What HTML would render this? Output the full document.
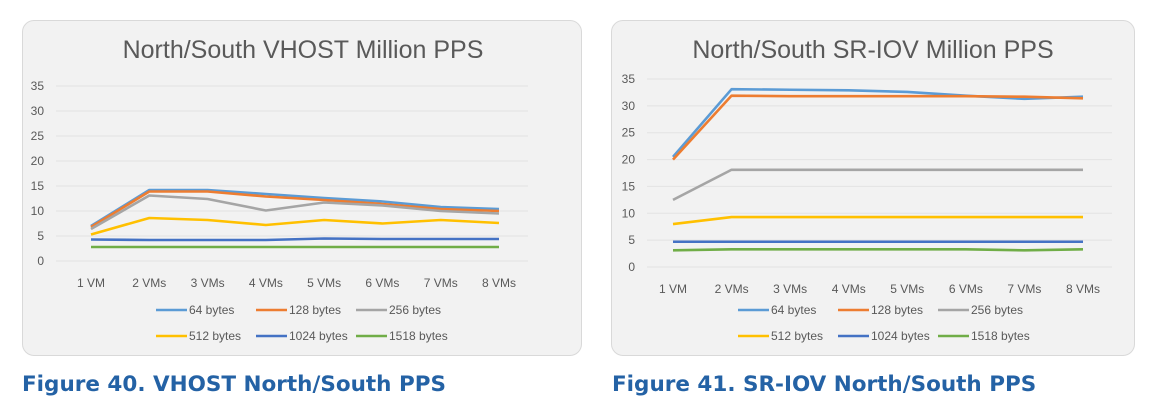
<!DOCTYPE html>
<html><head><meta charset="utf-8"><style>
body{margin:0;width:1153px;height:404px;background:#fff;font-family:"Liberation Sans",sans-serif;overflow:hidden;position:relative}
.card{position:absolute;top:20px;height:336px;background:#f2f2f2;border:1px solid #d9d9d9;border-radius:12px;box-sizing:border-box}
.cap{position:absolute;top:372px;font-family:"DejaVu Sans","Liberation Sans",sans-serif;font-weight:bold;font-size:21.5px;color:#2462a5}
svg{position:absolute;left:0;top:0}
</style></head><body>
<div class="card" style="left:22px;width:560px"></div>
<div class="card" style="left:611px;width:524px"></div>
<div class="cap" style="left:22px">Figure 40. VHOST North/South PPS</div>
<div class="cap" style="left:612px">Figure 41. SR-IOV North/South PPS</div>
<svg id="s" width="1153" height="404"></svg>
<script>
const categories=["1 VM","2 VMs","3 VMs","4 VMs","5 VMs","6 VMs","7 VMs","8 VMs"];
const seriesNames=["64 bytes","128 bytes","256 bytes","512 bytes","1024 bytes","1518 bytes"];
const colors=["#5b9bd5","#ed7d31","#a5a5a5","#ffc000","#4472c4","#70ad47"];
const yTicks=[0,5,10,15,20,25,30,35];
const vhost64=[7,14.2,14.2,13.4,12.6,11.9,10.8,10.4];
const vhost128=[6.8,13.9,13.9,12.9,12.2,11.4,10.4,10];
const vhost256=[6.4,13.1,12.4,10.1,11.7,11.1,10,9.5];
const vhost512=[5.3,8.6,8.2,7.2,8.2,7.5,8.2,7.6];
const vhost1024=[4.3,4.2,4.2,4.2,4.5,4.4,4.4,4.4];
const vhost1518=[2.8,2.8,2.8,2.8,2.8,2.8,2.8,2.8];
const sriov64=[20.5,33.1,33,32.9,32.6,31.9,31.3,31.7];
const sriov128=[20,31.9,31.8,31.8,31.8,31.8,31.7,31.4];
const sriov256=[12.5,18.1,18.1,18.1,18.1,18.1,18.1,18.1];
const sriov512=[8,9.3,9.3,9.3,9.3,9.3,9.3,9.3];
const sriov1024=[4.7,4.7,4.7,4.7,4.7,4.7,4.7,4.7];
const sriov1518=[3.1,3.3,3.3,3.3,3.3,3.3,3.1,3.3];
const NS="http://www.w3.org/2000/svg";
const svg=document.getElementById('s');
function el(t,a,txt){const e=document.createElementNS(NS,t);for(const k in a)e.setAttribute(k,a[k]);if(txt!==undefined)e.textContent=txt;svg.appendChild(e);return e;}
function chart(cfg,series,key){
  const x=i=>cfg.x0+(cfg.x1-cfg.x0)*i/(categories.length-1);
  const y=v=>cfg.y0-(cfg.y0-cfg.y35)*v/35;
  let t=el('text',{x:cfg.tx,y:58,'font-size':25,fill:'#595959','text-anchor':'middle','font-family':'Liberation Sans'},cfg.title);
  
  
  yTicks.forEach(v=>{
    let g=el('line',{x1:cfg.g0,x2:cfg.g1,y1:y(v),y2:y(v),stroke:'#e3e3e3','stroke-width':1});
    
    
    let l=el('text',{x:cfg.g0-12,y:y(v)+4,'font-size':12,fill:'#595959','text-anchor':'end'},v);
    
    
  });
  categories.forEach((c,i)=>{
    let l=el('text',{x:x(i),y:cfg.y0+26,'font-size':12,fill:'#595959','text-anchor':'middle'},c);
    
    
  });
  series.forEach((d,s)=>{
    let p=el('polyline',{points:d.map((v,i)=>x(i)+','+y(v)).join(' '),fill:'none',stroke:colors[s],'stroke-width':2.6,'stroke-linejoin':'round'});
    
    
  });
  seriesNames.forEach((n,s)=>{
    const lx=cfg.lx+(s%3)*100, ly=s<3?310:336;
    let ln=el('line',{x1:lx,x2:lx+31,y1:ly,y2:ly,stroke:colors[s],'stroke-width':2.6});
    
    
    let lt=el('text',{x:lx+33,y:ly+4,'font-size':12,fill:'#595959'},n);
    
    
  });
}
chart({title:'North/South VHOST Million PPS',tx:303,x0:91,x1:499,y0:261,y35:86,g0:56,g1:528,lx:156},[vhost64,vhost128,vhost256,vhost512,vhost1024,vhost1518],'vhost');
chart({title:'North/South SR-IOV Million PPS',tx:873,x0:673,x1:1083,y0:267,y35:79,g0:647,g1:1112,lx:738},[sriov64,sriov128,sriov256,sriov512,sriov1024,sriov1518],'sriov');
</script>
</body></html>
